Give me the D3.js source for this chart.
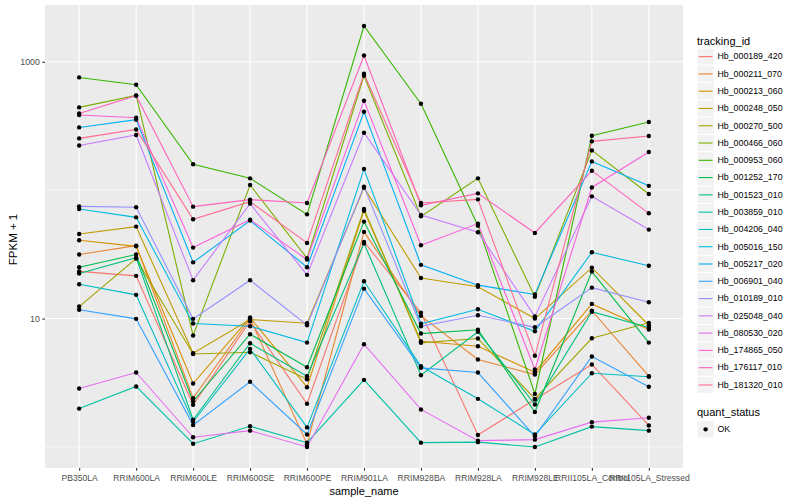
<!DOCTYPE html>
<html>
<head>
<meta charset="utf-8">
<script src="https://cdn.jsdelivr.net/npm/d3@7"></script>
<style>
  html, body { margin: 0; padding: 0; background: #fff; }
  svg { display: block; font-family: "Liberation Sans", Arial, Helvetica, sans-serif; }
</style>
</head>
<body>
<svg id="chart" width="800" height="500"></svg>
<script>
// ---------------- data ----------------
const categories = ["PB350LA", "RRIM600LA", "RRIM600LE", "RRIM600SE", "RRIM600PE", "RRIM901LA",
  "RRIM928BA", "RRIM928LA", "RRIM928LE", "RRII105LA_Control", "RRII105LA_Stressed"];

const trackingIds = ["Hb_000189_420", "Hb_000211_070", "Hb_000213_060", "Hb_000248_050", "Hb_000270_500",
  "Hb_000466_060", "Hb_000953_060", "Hb_001252_170", "Hb_001523_010", "Hb_003859_010",
  "Hb_004206_040", "Hb_005016_150", "Hb_005217_020", "Hb_006901_040", "Hb_010189_010",
  "Hb_025048_040", "Hb_080530_020", "Hb_174865_050", "Hb_176117_010", "Hb_181320_010"];

// FPKM + 1 per sample (same order as categories)
const hb000189 = [23.3, 21.5, 2.13, 9.53, 2.17, 39.5, 11.1, 1.24, 2.34, 4.39, 1.47];
const hb000211 = [31.5, 37.0, 2.40, 10.0, 1.05, 47.3, 10.5, 4.80, 3.66, 11.5, 3.56];
const hb000213 = [40.7, 36.5, 3.12, 10.2, 2.92, 69.2, 6.66, 6.09, 3.82, 13.0, 8.21];
const hb000248 = [45.6, 52.0, 5.37, 9.82, 9.19, 104.5, 20.7, 17.7, 10.0, 24.9, 8.87];
const hb000270 = [12.4, 29.3, 5.29, 5.47, 3.37, 71.4, 6.47, 6.99, 2.37, 7.02, 9.26];
const hb000466 = [441, 547, 7.38, 109.7, 29.5, 778, 62.5, 123.6, 14.8, 204, 93.4];
const hb000953 = [755, 662, 159, 123.6, 64.8, 1897, 471, 52.9, 2.59, 265.5, 339.6];
const hb001252 = [25.1, 31.5, 2.27, 7.55, 4.18, 56.9, 7.64, 8.17, 1.87, 23.2, 6.50];
const hb001523 = [22.4, 29.8, 1.63, 6.42, 3.56, 38.5, 3.62, 7.88, 2.14, 11.3, 8.51];
const hb003859 = [1.99, 2.96, 1.06, 1.45, 1.08, 3.33, 1.08, 1.09, 1.0, 1.44, 1.34];
const hb004206 = [18.5, 15.3, 1.57, 5.81, 1.42, 19.5, 4.25, 2.37, 1.25, 3.75, 3.52];
const hb005016 = [71.4, 61.4, 9.14, 8.71, 6.50, 146, 9.10, 11.8, 7.96, 32.8, 25.8];
const hb005217 = [308, 354, 27.4, 57.9, 25.1, 408, 26.2, 18.2, 15.4, 167.5, 108];
const hb006901 = [11.7, 9.95, 1.48, 3.22, 1.25, 17.1, 4.13, 3.80, 1.21, 5.06, 2.94];
const hb010189 = [74.8, 73.5, 9.95, 19.9, 8.87, 106.5, 8.71, 10.6, 8.55, 17.4, 13.4];
const hb025048 = [223, 269, 19.9, 78.5, 21.9, 280, 64.1, 47.0, 10.4, 89.5, 49.3];
const hb080530 = [2.85, 3.80, 1.19, 1.34, 1.0, 6.31, 1.96, 1.12, 1.14, 1.56, 1.69];
const hb174865 = [385, 366, 35.7, 58.9, 28.8, 497, 37.2, 54.9, 4.01, 105, 198];
const hb176117 = [396, 544, 74.4, 84.4, 79.5, 1119, 76.2, 94.4, 46.4, 141.8, 66.0];
const hb181320 = [253, 297, 59.3, 81.4, 38.8, 807, 79.5, 84.8, 5.13, 240, 264];

const seriesValues = [hb000189, hb000211, hb000213, hb000248, hb000270, hb000466, hb000953,
  hb001252, hb001523, hb003859, hb004206, hb005016, hb005217, hb006901, hb010189,
  hb025048, hb080530, hb174865, hb176117, hb181320];

const quantStatus = ["OK"];
const yTickValues = [10, 1000];
const yMinorValues = [1, 100];

// ---------------- styles ----------------
const palette = ["#F8766D", "#EA8331", "#D89000", "#C09B00", "#A3A500", "#7CAE00", "#39B600",
  "#00BB4E", "#00BF7D", "#00C1A3", "#00BFC4", "#00BAE0", "#00B0F6", "#35A2FF", "#9590FF",
  "#C77CFF", "#E76BF3", "#FA62DB", "#FF62BC", "#FF6C91"];

const panel = { left: 45, right: 683, top: 5, bottom: 468 };
const svg = d3.select("#chart");

// ---------------- scales ----------------
const x = d3.scalePoint().domain(categories).range([panel.left, panel.right]).padding(0.6);

const allVals = seriesValues.flat();
const lmin = Math.log10(d3.min(allVals)), lmax = Math.log10(d3.max(allVals));
const span = lmax - lmin;
const y = d3.scaleLog()
  .domain([Math.pow(10, lmin - 0.05 * span), Math.pow(10, lmax + 0.05 * span)])
  .range([panel.bottom, panel.top]);

const color = d3.scaleOrdinal().domain(trackingIds).range(palette);

// ---------------- panel ----------------
svg.append("rect")
  .attr("x", panel.left).attr("y", panel.top)
  .attr("width", panel.right - panel.left).attr("height", panel.bottom - panel.top)
  .attr("fill", "#EBEBEB");

const grid = svg.append("g");
grid.selectAll("line.minor").data(yMinorValues).join("line")
  .attr("x1", panel.left).attr("x2", panel.right)
  .attr("y1", d => y(d)).attr("y2", d => y(d))
  .attr("stroke", "#fff").attr("stroke-width", 0.55);
grid.selectAll("line.major").data(yTickValues).join("line")
  .attr("x1", panel.left).attr("x2", panel.right)
  .attr("y1", d => y(d)).attr("y2", d => y(d))
  .attr("stroke", "#fff").attr("stroke-width", 1.1);
grid.selectAll("line.vx").data(categories).join("line")
  .attr("x1", d => x(d)).attr("x2", d => x(d))
  .attr("y1", panel.top).attr("y2", panel.bottom)
  .attr("stroke", "#fff").attr("stroke-width", 1.1);

// ---------------- lines & points ----------------
const series = trackingIds.map((id, i) => ({
  id, values: categories.map((c, j) => ({ c, v: seriesValues[i][j] }))
}));

const line = d3.line().x(d => x(d.c)).y(d => y(d.v));

svg.append("g").selectAll("path").data(series).join("path")
  .attr("d", d => line(d.values))
  .attr("fill", "none")
  .attr("stroke", d => color(d.id))
  .attr("stroke-width", 1.1);

svg.append("g").selectAll("g").data(series).join("g")
  .selectAll("circle").data(d => d.values).join("circle")
  .attr("cx", d => x(d.c)).attr("cy", d => y(d.v))
  .attr("r", 2.2).attr("fill", "#000");

// ---------------- axes ----------------
const xAxis = d3.axisBottom(x).tickSize(2.7).tickPadding(4.3);
const gx = svg.append("g").attr("transform", `translate(0,${panel.bottom})`).call(xAxis);
gx.select(".domain").remove();
gx.selectAll(".tick line").attr("stroke", "#333").attr("stroke-width", 1.1);
gx.selectAll(".tick text").attr("fill", "#4D4D4D").attr("font-size", 8.6)
  .attr("font-family", "Liberation Sans, Arial, sans-serif");

const yAxis = d3.axisLeft(y).tickValues(yTickValues).tickFormat(d3.format("d")).tickSize(2.7).tickPadding(2.5);
const gy = svg.append("g").attr("transform", `translate(${panel.left},0)`).call(yAxis);
gy.select(".domain").remove();
gy.selectAll(".tick line").attr("stroke", "#333").attr("stroke-width", 1.1);
gy.selectAll(".tick text").attr("fill", "#4D4D4D").attr("font-size", 8.8)
  .attr("font-family", "Liberation Sans, Arial, sans-serif");

svg.append("text")
  .attr("x", (panel.left + panel.right) / 2).attr("y", 494.5)
  .attr("text-anchor", "middle").attr("font-size", 11).attr("fill", "#000")
  .text("sample_name");

svg.append("text")
  .attr("transform", `translate(16.5,${(panel.top + panel.bottom) / 2 + 3}) rotate(-90)`)
  .attr("text-anchor", "middle").attr("font-size", 11.5).attr("fill", "#000")
  .text("FPKM + 1");

// ---------------- legend ----------------
const keySize = 17.28;
const lgX = 697, lgTop = 48;
const lg = svg.append("g");
lg.append("text").attr("x", lgX).attr("y", 44.5).attr("font-size", 11).text("tracking_id");

const items = lg.selectAll("g.item").data(trackingIds).join("g")
  .attr("transform", (d, i) => `translate(${lgX},${lgTop + i * keySize})`);
items.append("rect").attr("width", keySize).attr("height", keySize)
  .attr("fill", "#F2F2F2").attr("stroke", "#fff").attr("stroke-width", 1);
items.append("line").attr("x1", 1.7).attr("x2", keySize - 1.7)
  .attr("y1", keySize / 2).attr("y2", keySize / 2)
  .attr("stroke", d => color(d)).attr("stroke-width", 1.1);
items.append("text").attr("x", keySize + 3.2).attr("y", keySize / 2 + 2.8)
  .attr("font-size", 8.8).attr("fill", "#000").text(d => d);

const qTop = 420.7;
lg.append("text").attr("x", lgX).attr("y", 416).attr("font-size", 11).text("quant_status");
const qItems = lg.selectAll("g.q").data(quantStatus).join("g")
  .attr("transform", (d, i) => `translate(${lgX},${qTop + i * keySize})`);
qItems.append("rect").attr("width", keySize).attr("height", keySize)
  .attr("fill", "#F2F2F2").attr("stroke", "#fff").attr("stroke-width", 1);
qItems.append("circle").attr("cx", keySize / 2).attr("cy", keySize / 2).attr("r", 2.2).attr("fill", "#000");
qItems.append("text").attr("x", keySize + 3.2).attr("y", keySize / 2 + 2.8)
  .attr("font-size", 8.8).attr("fill", "#000").text(d => d);
</script>
</body>
</html>
